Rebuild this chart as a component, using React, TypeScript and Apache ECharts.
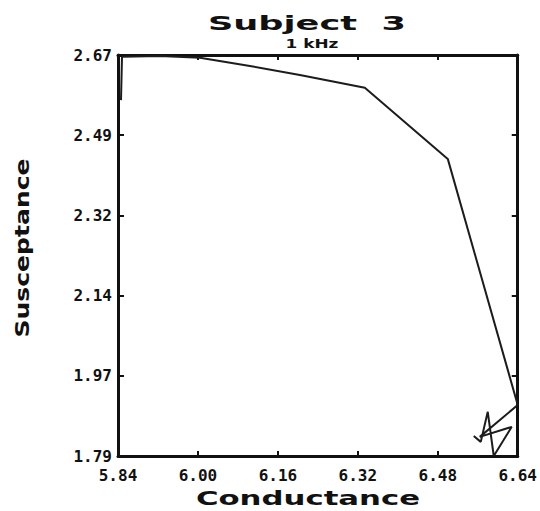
import React, { useEffect, useRef } from "react";
import * as echarts from "echarts";

// Impedance locus: conductance (x) against susceptance (y)
const conductance = [
  5.846, 5.848, 5.924, 6.004, 6.104, 6.204, 6.334, 6.5, 6.64, 6.564, 6.628,
  6.592, 6.58, 6.566, 6.552,
];
const susceptance = [
  2.571, 2.666, 2.668, 2.664, 2.646, 2.626, 2.598, 2.442, 1.902, 1.832, 1.854,
  1.79, 1.887, 1.821, 1.834,
];

const xTicks = [5.84, 6.0, 6.16, 6.32, 6.48, 6.64];
const yTicks = [1.79, 1.966, 2.142, 2.318, 2.494, 2.67];

const titleText = "Subject  3";
const subtitleText = "1 kHz";
const xName = "Conductance";
const yName = "Susceptance";

const INK = "#111";
const LABEL_FONT = {
  fontFamily: "DejaVu Sans Mono",
  fontWeight: "bold" as const,
  fontSize: 16,
  color: INK,
};

export default function App() {
  const ref = useRef<HTMLDivElement>(null);

  useEffect(() => {
    if (!ref.current) return;
    const chart = echarts.init(ref.current, null, { renderer: "svg" });

    const points = conductance.map((c, i) => [c, susceptance[i]]);
    const axisLine = { show: true, lineStyle: { color: INK, width: 3 } };

    const xBase = {
      type: "value" as const,
      min: xTicks[0],
      max: xTicks[xTicks.length - 1],
      splitLine: { show: false },
      axisLine,
    };
    const yBase = {
      type: "value" as const,
      min: yTicks[0],
      max: yTicks[yTicks.length - 1],
      splitLine: { show: false },
      axisLine,
    };

    chart.setOption({
      animation: false,
      backgroundColor: "#fff",
      grid: { left: 118, right: 22, top: 55, bottom: 55, containLabel: false },
      xAxis: [
        {
          ...xBase,
          position: "bottom",
          axisTick: {
            inside: true,
            length: 5,
            customValues: xTicks,
            lineStyle: { color: INK, width: 2 },
          },
          axisLabel: {
            ...LABEL_FONT,
            margin: 11,
            customValues: xTicks,
            formatter: (v: number) => v.toFixed(2),
          },
        },
        {
          ...xBase,
          position: "top",
          axisTick: {
            inside: true,
            length: 5,
            customValues: xTicks,
            lineStyle: { color: INK, width: 2 },
          },
          axisLabel: { show: false },
        },
      ],
      yAxis: [
        {
          ...yBase,
          position: "left",
          axisTick: {
            inside: true,
            length: 6,
            customValues: yTicks,
            lineStyle: { color: INK, width: 2 },
          },
          axisLabel: {
            ...LABEL_FONT,
            margin: 6,
            customValues: yTicks,
            formatter: (v: number) => v.toFixed(2),
          },
        },
        {
          ...yBase,
          position: "right",
          axisTick: {
            inside: true,
            length: 6,
            customValues: yTicks,
            lineStyle: { color: INK, width: 2 },
          },
          axisLabel: { show: false },
        },
      ],
      series: [
        {
          type: "line",
          data: points,
          showSymbol: false,
          symbol: "none",
          clip: true,
          lineStyle: { color: "#1c1c1c", width: 2 },
          z: 1,
        },
      ],
      graphic: [
        {
          type: "text",
          x: 307,
          y: 24,
          scaleX: 1.85,
          style: {
            text: titleText,
            fontFamily: "DejaVu Sans",
            fontWeight: 900,
            fontSize: 19,
            fill: INK,
            textAlign: "center",
            textVerticalAlign: "middle",
          },
        },
        {
          type: "text",
          x: 312,
          y: 44,
          scaleX: 1.3,
          style: {
            text: subtitleText,
            fontFamily: "DejaVu Sans",
            fontWeight: "bold",
            fontSize: 13,
            fill: INK,
            textAlign: "center",
            textVerticalAlign: "middle",
          },
        },
        {
          type: "text",
          x: 308,
          y: 498,
          scaleX: 1.62,
          style: {
            text: xName,
            fontFamily: "DejaVu Sans",
            fontWeight: 900,
            fontSize: 19,
            fill: INK,
            textAlign: "center",
            textVerticalAlign: "middle",
          },
        },
        {
          type: "text",
          x: 22,
          y: 248,
          rotation: Math.PI / 2,
          scaleX: 1.32,
          style: {
            text: yName,
            fontFamily: "DejaVu Sans",
            fontWeight: 900,
            fontSize: 19,
            fill: INK,
            textAlign: "center",
            textVerticalAlign: "middle",
          },
        },
      ],
    });

    return () => chart.dispose();
  }, []);

  return (
    <div
      ref={ref}
      style={{ position: "fixed", left: 0, top: 0, width: 540, height: 511 }}
    />
  );
}
